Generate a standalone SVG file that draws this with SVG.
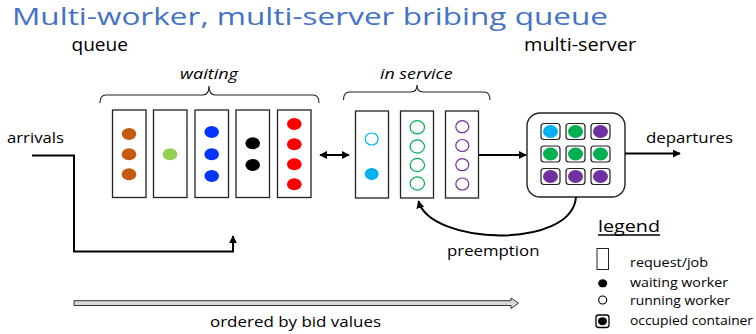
<svg xmlns="http://www.w3.org/2000/svg" width="756" height="334" viewBox="0 0 756 334">
<defs>
<marker id="ah" viewBox="0 0 10 10" refX="9" refY="5" markerWidth="8" markerHeight="8" markerUnits="userSpaceOnUse" orient="auto-start-reverse">
<path d="M0 0 L10 5 L0 10 z" fill="#000"/>
</marker>
<style>
.t{font-family:"Open Sans","Liberation Sans",sans-serif;fill:#000}
.ttl{font-size:23px;fill:#4472C4}
.h{font-size:18px}
.l{font-size:15px}
.i{font-size:15px;font-style:italic}
.g{font-size:13px}
.box{fill:#fff;stroke:#222;stroke-width:1.3}
.cell{fill:#fff;stroke:#222;stroke-width:1.2}
.br{fill:none;stroke:#222;stroke-width:1.2}
.cm{fill:none;stroke:#000;stroke-width:2;marker-end:url(#ah)}
.brn{fill:#C55A11}.lg{fill:#92D050}.blu{fill:#0433FF}.blk{fill:#000}.red{fill:#FF0000}
.cy{fill:#00B0F0}.gr{fill:#00B050}.pu{fill:#7030A0}
.ocy{fill:none;stroke:#00B0F0;stroke-width:1.2}
.ogr{fill:none;stroke:#00B050;stroke-width:1.2}
.opu{fill:none;stroke:#7030A0;stroke-width:1.2}
</style>
</defs>
<rect width="756" height="334" fill="#fff"/>

<text class="t ttl" x="12" y="25" textLength="596" lengthAdjust="spacingAndGlyphs">Multi-worker, multi-server bribing queue</text>
<text class="t h" x="71.5" y="51" textLength="56.5" lengthAdjust="spacingAndGlyphs">queue</text>
<text class="t h" x="524" y="51" textLength="112" lengthAdjust="spacingAndGlyphs">multi-server</text>

<g id="waiting-brace">
<path class="br" d="M100 103 Q100 95 106 95 H203 Q209 95 209 86 Q209 95 215 95 H313 Q319 95 319 103"/>
<text class="t i" x="180" y="79" textLength="58" lengthAdjust="spacingAndGlyphs">waiting</text>
</g>
<g id="service-brace">
<path class="br" d="M343.5 100 Q343.5 92 349.5 92 H411 Q417 92 417 85 Q417 92 423 92 H484 Q490 92 490 100"/>
<text class="t i" x="380" y="78.5" textLength="72.5" lengthAdjust="spacingAndGlyphs">in service</text>
</g>

<g id="job-w1">
<rect class="box" x="112.5" y="110" width="33.5" height="87.5"/>
<ellipse class="brn" cx="129" cy="134" rx="7.3" ry="6"/>
<ellipse class="brn" cx="129" cy="154.3" rx="7.3" ry="6"/>
<ellipse class="brn" cx="129" cy="174.3" rx="7.3" ry="6"/>
</g>
<g id="job-w2">
<rect class="box" x="153.5" y="110" width="33.5" height="87.5"/>
<ellipse class="lg" cx="170" cy="154.3" rx="7.3" ry="6"/>
</g>
<g id="job-w3">
<rect class="box" x="195" y="110" width="33.5" height="87.5"/>
<ellipse class="blu" cx="211.7" cy="132" rx="7.3" ry="6"/>
<ellipse class="blu" cx="211.7" cy="154.3" rx="7.3" ry="6"/>
<ellipse class="blu" cx="211.7" cy="176" rx="7.3" ry="6"/>
</g>
<g id="job-w4">
<rect class="box" x="236" y="110" width="33.5" height="87.5"/>
<ellipse class="blk" cx="252.7" cy="143.3" rx="7.3" ry="6"/>
<ellipse class="blk" cx="252.7" cy="165" rx="7.3" ry="6"/>
</g>
<g id="job-w5">
<rect class="box" x="277.5" y="110" width="33.5" height="87.5"/>
<ellipse class="red" cx="294.3" cy="124" rx="7.3" ry="6"/>
<ellipse class="red" cx="294.3" cy="144.3" rx="7.3" ry="6"/>
<ellipse class="red" cx="294.3" cy="164.3" rx="7.3" ry="6"/>
<ellipse class="red" cx="294.3" cy="184.3" rx="7.3" ry="6"/>
</g>

<g id="job-s1">
<rect class="box" x="355.5" y="111" width="33" height="87"/>
<ellipse class="ocy" cx="371.7" cy="139" rx="6.5" ry="6"/>
<ellipse class="cy" cx="371.7" cy="174" rx="7" ry="6"/>
</g>
<g id="job-s2">
<rect class="box" x="400.5" y="111" width="33" height="87"/>
<ellipse class="ogr" cx="417.3" cy="127.3" rx="7.2" ry="6.6"/>
<ellipse class="ogr" cx="417.3" cy="146.5" rx="7.2" ry="6.6"/>
<ellipse class="ogr" cx="417.3" cy="165" rx="7.2" ry="6.6"/>
<ellipse class="ogr" cx="417.3" cy="183.5" rx="7.2" ry="6.6"/>
</g>
<g id="job-s3">
<rect class="box" x="445.5" y="111" width="33" height="87"/>
<ellipse class="opu" cx="462.3" cy="126.7" rx="6.5" ry="6"/>
<ellipse class="opu" cx="462.3" cy="145.5" rx="6.5" ry="6"/>
<ellipse class="opu" cx="462.3" cy="164.7" rx="6.5" ry="6"/>
<ellipse class="opu" cx="462.3" cy="184" rx="6.5" ry="6"/>
</g>

<g id="multi-server">
<rect x="527" y="113" width="98" height="84" rx="13" fill="#fff" stroke="#222" stroke-width="1.4"/>
<rect class="cell" x="541" y="123.5" width="19" height="16" rx="3"/>
<rect class="cell" x="566" y="123.5" width="19" height="16" rx="3"/>
<rect class="cell" x="591" y="123.5" width="19" height="16" rx="3"/>
<rect class="cell" x="541" y="146" width="19" height="16" rx="3"/>
<rect class="cell" x="566" y="146" width="19" height="16" rx="3"/>
<rect class="cell" x="591" y="146" width="19" height="16" rx="3"/>
<rect class="cell" x="541" y="168.5" width="19" height="16" rx="3"/>
<rect class="cell" x="566" y="168.5" width="19" height="16" rx="3"/>
<rect class="cell" x="591" y="168.5" width="19" height="16" rx="3"/>
<ellipse class="cy" cx="550.5" cy="131.5" rx="7.5" ry="6.5"/>
<ellipse class="gr" cx="575.5" cy="131.5" rx="7.5" ry="6.5"/>
<ellipse class="pu" cx="600.5" cy="131.5" rx="7.5" ry="6.5"/>
<ellipse class="gr" cx="550.5" cy="154" rx="7.5" ry="6.5"/>
<ellipse class="gr" cx="575.5" cy="154" rx="7.5" ry="6.5"/>
<ellipse class="gr" cx="600.5" cy="154" rx="7.5" ry="6.5"/>
<ellipse class="pu" cx="550.5" cy="176.5" rx="7.5" ry="6.5"/>
<ellipse class="pu" cx="575.5" cy="176.5" rx="7.5" ry="6.5"/>
<ellipse class="pu" cx="600.5" cy="176.5" rx="7.5" ry="6.5"/>
</g>

<g id="labels">
<text class="t l" x="7" y="143" textLength="57" lengthAdjust="spacingAndGlyphs">arrivals</text>
<text class="t l" x="646" y="143" textLength="87" lengthAdjust="spacingAndGlyphs">departures</text>
<text class="t l" x="447" y="256" textLength="92.5" lengthAdjust="spacingAndGlyphs">preemption</text>
<text class="t l" x="210" y="327" textLength="171" lengthAdjust="spacingAndGlyphs">ordered by bid values</text>
</g>

<g id="connectors">
<path class="cm" d="M32 155.5 H74 V251.5 H233 V236"/>
<path class="cm" d="M320 155 H349" marker-start="url(#ah)"/>
<path class="cm" d="M479 155 H526"/>
<path class="cm" d="M625 153.5 H680"/>
<path class="cm" d="M576 197 C572 250 430 245 418.5 201"/>
<polygon points="74,300.7 511,300.7 511,298 518.5,303.2 511,308.5 511,305.5 74,305.5" fill="#D9D9D9" stroke="#333" stroke-width="1"/>
</g>

<g id="legend">
<text class="t" x="598" y="231.5" font-size="17" textLength="62" lengthAdjust="spacingAndGlyphs">legend</text>
<line x1="598" y1="235" x2="660" y2="235" stroke="#000" stroke-width="1.3"/>
<rect x="597" y="248.5" width="11.5" height="21" fill="#fff" stroke="#222" stroke-width="1"/>
<ellipse cx="602.7" cy="283.3" rx="4.5" ry="4" fill="#000"/>
<circle cx="602.7" cy="300" r="4" fill="none" stroke="#000" stroke-width="1.1"/>
<rect x="596" y="315" width="13" height="12.5" rx="2.5" fill="#fff" stroke="#000" stroke-width="1.3"/>
<ellipse cx="602.5" cy="321.2" rx="4.5" ry="4" fill="#000"/>
<text class="t g" x="630" y="266.5" textLength="78" lengthAdjust="spacingAndGlyphs">request/job</text>
<text class="t g" x="630" y="286.5" textLength="98" lengthAdjust="spacingAndGlyphs">waiting worker</text>
<text class="t g" x="630" y="305" textLength="100" lengthAdjust="spacingAndGlyphs">running worker</text>
<text class="t g" x="630" y="325" textLength="123" lengthAdjust="spacingAndGlyphs">occupied container</text>
</g>
</svg>
